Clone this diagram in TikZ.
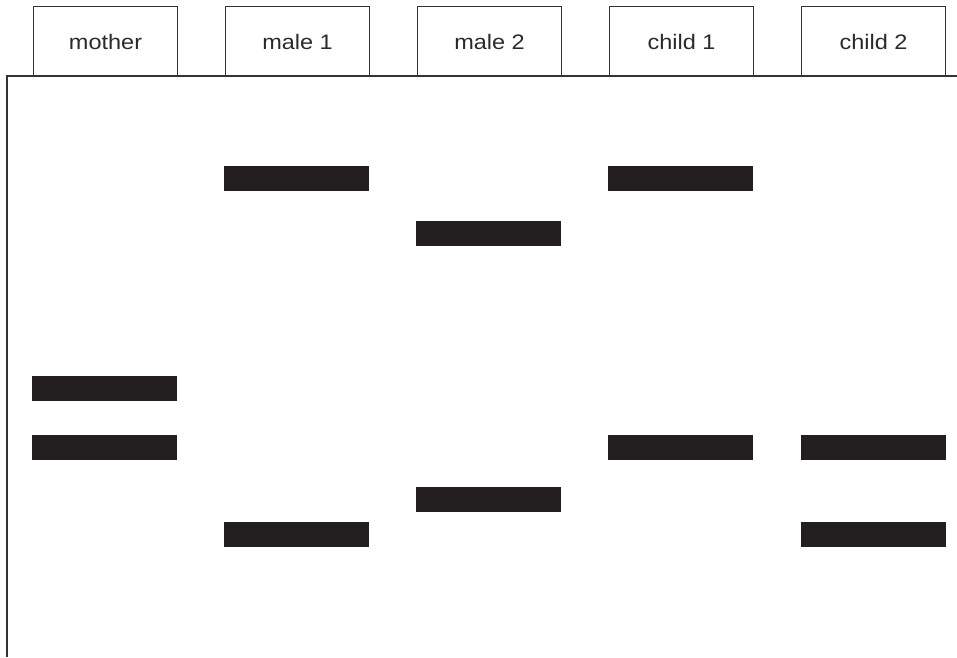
\documentclass[tikz,border=0pt]{standalone}
\usepackage{fontspec}
\setmainfont{Liberation Sans}
\definecolor{linegray}{HTML}{333333}
\definecolor{textgray}{HTML}{2A2A2A}
\definecolor{bandblack}{HTML}{231F20}
\newcommand{\lanelabel}[1]{\scalebox{1.12}[1]{#1}}
\tikzset{
  lanebox/.style={draw=linegray, line width=1.1pt, minimum width=144pt, minimum height=70pt, inner sep=0pt, anchor=north west, text=textgray, font=\fontsize{21}{21}\selectfont},
  band/.style={fill=bandblack, draw=none, minimum width=145pt, minimum height=25pt, inner sep=0pt, anchor=north west},
  frameline/.style={draw=linegray, line width=1.3pt}
}
\begin{document}
\begin{tikzpicture}[x=1pt,y=-1pt]
\useasboundingbox (0,0) rectangle (957,657);
% lane header boxes
\node[lanebox] (mother) at (33,6) {\lanelabel{mother}};
\node[lanebox] (male1) at (225,6) {\lanelabel{male 1}};
\node[lanebox] (male2) at (417,6) {\lanelabel{male 2}};
\node[lanebox] (child1) at (609,6) {\lanelabel{child 1}};
\node[lanebox] (child2) at (801,6) {\lanelabel{child 2}};
% frame
\coordinate (ftr) at (957,76);
\coordinate (ftl) at (7,76);
\coordinate (fbl) at (7,657);
\draw[frameline] (fbl) -- (ftl) -- (ftr);
% bands
\node[band] (m1) at (32,376) {};
\node[band] (m2) at (32,435) {};
\node[band] (a1) at (224,166) {};
\node[band] (a2) at (224,522) {};
\node[band] (b1) at (416,221) {};
\node[band] (b2) at (416,487) {};
\node[band] (c1) at (608,166) {};
\node[band] (c2) at (608,435) {};
\node[band] (d1) at (801,435) {};
\node[band] (d2) at (801,522) {};
\end{tikzpicture}
\end{document}
